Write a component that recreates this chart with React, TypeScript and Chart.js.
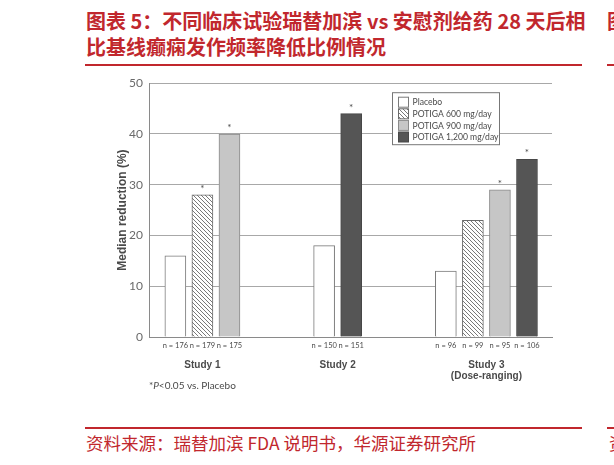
import { useEffect, useRef } from "react"
import { Chart, registerables } from "chart.js"

Chart.register(...registerables)

// groups on the x axis
const studies: (string | string[])[] = ["Study 1", "Study 2", ["Study 3", "(Dose-ranging)"]]
const seriesNames = ["Placebo", "POTIGA 600 mg/day", "POTIGA 900 mg/day", "POTIGA 1,200 mg/day"]

// median reduction (%) per study, null where the arm was not in the study
const placebo = [16, 18, 13]
const dose600 = [28, null, 23]
const dose900 = [40, null, 29]
const dose1200 = [null, 44, 35]

// patients per arm
const nPlacebo = [176, 150, 96]
const n600 = [179, null, 99]
const n900 = [175, null, 95]
const n1200 = [null, 151, 106]

// P<0.05 vs. placebo
const sigPlacebo = [false, false, false]
const sig600 = [true, false, false]
const sig900 = [true, false, true]
const sig1200 = [false, true, true]

const yTicks = [0, 10, 20, 30, 40, 50]

const RED = "#c1272d"
const TEXT = "#4a4a4a"

const values = [placebo, dose600, dose900, dose1200]
const counts = [nPlacebo, n600, n900, n1200]
const sigs = [sigPlacebo, sig600, sig900, sig1200]

type Slot = { x: number; s: number; g: number }

// lay the bars out one slot apart, with a wider gap between studies
const slots: Slot[] = []
const groupCenters: number[] = []
{
  let pos = 0
  studies.forEach((_, g) => {
    const xs: number[] = []
    values.forEach((vals, s) => {
      if (vals[g] == null) return
      slots.push({ x: pos, s, g })
      xs.push(pos)
      pos += 2
    })
    groupCenters.push(xs.reduce((a, b) => a + b, 0) / xs.length)
    pos += 5
  })
}
const lastX = slots[slots.length - 1].x
const X_MIN = -1.95
const X_MAX = lastX + 1.85

function makeHatch(): CanvasPattern | string {
  const size = 4
  const c = document.createElement("canvas")
  c.width = size
  c.height = size
  const g = c.getContext("2d")
  if (!g) return "#fff"
  g.fillStyle = "#fff"
  g.fillRect(0, 0, size, size)
  g.strokeStyle = "#6a6a6a"
  g.lineWidth = 0.9
  g.beginPath()
  g.moveTo(-1, -1)
  g.lineTo(size + 1, size + 1)
  g.moveTo(-1, size - 1)
  g.lineTo(1, size + 1)
  g.moveTo(size - 1, -1)
  g.lineTo(size + 1, 1)
  g.stroke()
  return g.createPattern(c, "repeat") ?? "#fff"
}

const starPlugin = {
  id: "stars",
  afterDatasetsDraw(chart: any) {
    const { ctx } = chart
    ctx.save()
    ctx.fillStyle = TEXT
    ctx.font = "10px Lato"
    ctx.textAlign = "center"
    ctx.textBaseline = "alphabetic"
    chart.data.datasets.forEach((ds: any, i: number) => {
      const meta = chart.getDatasetMeta(i)
      meta.data.forEach((el: any, j: number) => {
        if (ds.sig[j]) ctx.fillText("*", el.x, el.y - 3)
      })
    })
    ctx.restore()
  },
}

const legendPlugin = {
  id: "boxLegend",
  afterDraw(chart: any) {
    const { ctx, chartArea } = chart
    const bx = chartArea.left + 243.5
    const by = chartArea.top + 9.5
    const bw = 107
    const bh = 52
    ctx.save()
    ctx.fillStyle = "#fff"
    ctx.fillRect(bx, by, bw, bh)
    ctx.strokeStyle = "#777"
    ctx.lineWidth = 1
    ctx.strokeRect(bx, by, bw, bh)
    ctx.font = "8.6px Lato"
    ctx.textBaseline = "middle"
    chart.data.datasets.forEach((ds: any, i: number) => {
      const cy = by + 9.5 + i * 11.6
      ctx.fillStyle = ds.backgroundColor
      ctx.fillRect(bx + 6, cy - 5, 10, 10)
      ctx.strokeStyle = ds.borderColor
      ctx.strokeRect(bx + 6, cy - 5, 10, 10)
      ctx.fillStyle = TEXT
      ctx.fillText(ds.label, bx + 20, cy + 0.5)
    })
    ctx.restore()
  },
}

const notePlugin = {
  id: "footnote",
  afterDraw(chart: any) {
    const { ctx, chartArea } = chart
    const x0 = chartArea.left
    const y = chartArea.bottom + 49
    ctx.save()
    ctx.fillStyle = TEXT
    ctx.textBaseline = "middle"
    ctx.font = "10px Lato"
    ctx.fillText("*", x0, y)
    let x = x0 + ctx.measureText("*").width
    ctx.font = "italic 10px Lato"
    ctx.fillText("P", x, y)
    x += ctx.measureText("P").width
    ctx.font = "10px Lato"
    ctx.fillText("<0.05 vs. Placebo", x, y)
    ctx.restore()
  },
}

function ReductionChart() {
  const chartRef = useRef<HTMLCanvasElement>(null)
  const chartInstance = useRef<Chart | null>(null)

  useEffect(() => {
    if (!chartRef.current) return
    if (chartInstance.current) chartInstance.current.destroy()

    const fills: (string | CanvasPattern)[] = ["#ffffff", makeHatch(), "#c6c6c6", "#555555"]
    const borders = ["#7a7a7a", "#6a6a6a", "#8a8a8a", "#484848"]

    const datasets = seriesNames.map((name, s) => {
      const mine = slots.filter((sl) => sl.s === s)
      return {
        label: name,
        data: mine.map((sl) => ({ x: sl.x, y: values[s][sl.g] as number })),
        sig: mine.map((sl) => sigs[s][sl.g]),
        backgroundColor: fills[s],
        borderColor: borders[s],
        borderWidth: 1,
        barThickness: 21,
        grouped: false,
        xAxisID: "x",
      }
    })

    const nLabels = slots.map((sl) => `n = ${counts[sl.s][sl.g]}`)

    const ctx = chartRef.current.getContext("2d")
    if (!ctx) return

    chartInstance.current = new Chart(ctx, {
      type: "bar",
      data: { datasets: datasets as any },
      options: {
        animation: false,
        responsive: true,
        maintainAspectRatio: false,
        layout: { padding: { top: 11, right: 18, bottom: 13, left: 0 } },
        plugins: {
          legend: { display: false },
          tooltip: { enabled: false },
        },
        scales: {
          x: {
            type: "linear",
            position: "bottom",
            offset: false,
            min: X_MIN,
            max: X_MAX,
            grid: { display: false, drawTicks: false },
            border: { display: true, color: "#8a8a8a", width: 1 },
            afterBuildTicks: (axis: any) => {
              axis.ticks = slots.map((sl) => ({ value: sl.x }))
            },
            afterFit: (axis: any) => {
              axis.height = 20
            },
            ticks: {
              autoSkip: false,
              maxRotation: 0,
              padding: 4,
              color: TEXT,
              font: { family: "Lato", size: 7.5 },
              callback: (_v: any, i: number) => nLabels[i],
            },
          },
          x2: {
            type: "linear",
            position: "bottom",
            offset: false,
            min: X_MIN,
            max: X_MAX,
            grid: { display: false, drawTicks: false },
            border: { display: false },
            afterBuildTicks: (axis: any) => {
              axis.ticks = groupCenters.map((v) => ({ value: v }))
            },
            afterFit: (axis: any) => {
              axis.height = 30
            },
            ticks: {
              autoSkip: false,
              maxRotation: 0,
              padding: 3,
              color: TEXT,
              font: { family: "Liberation Sans", size: 10, weight: "bold", lineHeight: 1.05 },
              callback: (_v: any, i: number) => studies[i] as any,
            },
          },
          y: {
            min: yTicks[0],
            max: yTicks[yTicks.length - 1],
            afterBuildTicks: (axis: any) => {
              axis.ticks = yTicks.map((v) => ({ value: v }))
            },
            afterFit: (axis: any) => {
              axis.width = 49
            },
            grid: { color: "#a8a8a8", drawTicks: false, lineWidth: 1 },
            border: { display: true, color: "#8a8a8a" },
            ticks: {
              padding: 6,
              color: "#6a6a6a",
              font: { family: "Lato", size: 12 },
            },
            title: {
              display: true,
              text: "Median reduction (%)",
              color: TEXT,
              padding: { top: 15, bottom: 0 },
              font: { family: "Liberation Sans", size: 12, weight: "bold" },
            },
          },
        },
      },
      plugins: [starPlugin, legendPlugin, notePlugin],
    })

    return () => {
      if (chartInstance.current) {
        chartInstance.current.destroy()
        chartInstance.current = null
      }
    }
  }, [])

  return (
    <div style={{ position: "absolute", left: 100, top: 70, width: 470, height: 330 }}>
      <canvas ref={chartRef} />
    </div>
  )
}

export default function App() {
  const cjk = '"Noto Sans CJK SC", sans-serif'
  return (
    <div
      style={{
        position: "absolute",
        left: 0,
        top: 0,
        width: 614,
        height: 465,
        background: "#fff",
        overflow: "hidden",
      }}
    >
      <div
        style={{
          position: "absolute",
          left: 86,
          top: 8,
          fontFamily: cjk,
          fontSize: 20,
          fontWeight: 700,
          lineHeight: "26px",
          color: RED,
          whiteSpace: "nowrap",
        }}
      >
        图表 5：不同临床试验瑞替加滨 vs 安慰剂给药 28 天后相
        <br />
        比基线癫痫发作频率降低比例情况
      </div>
      <div
        style={{
          position: "absolute",
          left: 607,
          top: 8,
          fontFamily: cjk,
          fontSize: 20,
          fontWeight: 700,
          lineHeight: "26px",
          color: RED,
        }}
      >
        图
      </div>
      <div style={{ position: "absolute", left: 85, top: 64, width: 497, height: 2, background: RED }} />
      <div style={{ position: "absolute", left: 607, top: 64, width: 7, height: 2, background: RED }} />
      <ReductionChart />
      <div style={{ position: "absolute", left: 85, top: 427, width: 497, height: 1.5, background: RED }} />
      <div style={{ position: "absolute", left: 607, top: 427, width: 7, height: 1.5, background: RED }} />
      <div
        style={{
          position: "absolute",
          left: 86,
          top: 432,
          fontFamily: cjk,
          fontSize: 17.5,
          lineHeight: "22px",
          color: RED,
          whiteSpace: "nowrap",
        }}
      >
        资料来源：瑞替加滨 FDA 说明书，华源证券研究所
      </div>
      <div
        style={{
          position: "absolute",
          left: 609,
          top: 432,
          fontFamily: cjk,
          fontSize: 17.5,
          lineHeight: "22px",
          color: RED,
        }}
      >
        资
      </div>
    </div>
  )
}
